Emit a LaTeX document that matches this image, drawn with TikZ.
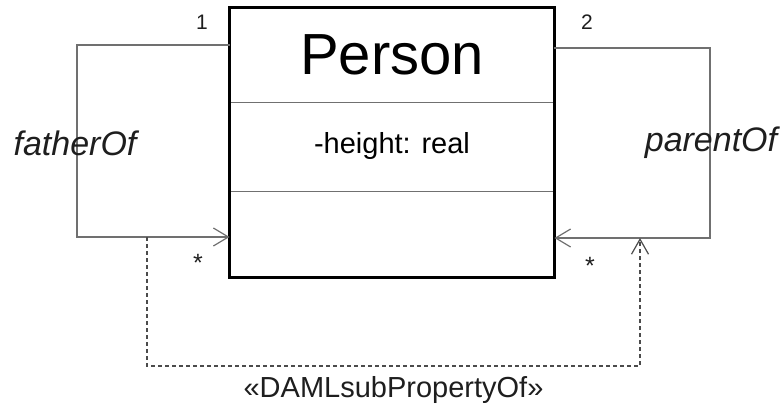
\documentclass[tikz,border=0pt]{standalone}
\usepackage{fontspec}
\setmainfont{Liberation Sans}
\usetikzlibrary{arrows.meta, positioning, calc}

\definecolor{linegray}{RGB}{112,112,112}
\definecolor{textgray}{RGB}{30,30,30}

\tikzset{
    compart/.style={draw=linegray, line width=0.9pt, minimum width=324pt, inner sep=0pt, text=black},
    classborder/.style={draw=black, line width=2.6pt},
    assoc/.style={draw=linegray, line width=1.4pt, -{Straight Barb[length=15pt, width=18pt, line width=1.2pt]}},
    dep/.style={draw=textgray!80, line width=1.3pt, dash pattern=on 4pt off 3pt, -{Straight Barb[length=15pt, width=17pt, line width=1.2pt]}},
    mult/.style={text=textgray, font=\fontsize{21}{23}\selectfont, inner sep=0pt},
    star/.style={text=textgray, font=\fontsize{25}{27}\selectfont, inner sep=0pt},
    rolename/.style={text=textgray, font=\fontsize{34}{36}\selectfont\itshape, inner sep=0pt}
}

\begin{document}
\begin{tikzpicture}[x=1pt, y=-1pt]
    \useasboundingbox (0,0) rectangle (782,409);

    % Class Person
    \node[compart, minimum height=94pt, font=\fontsize{58}{60}\selectfont] (name) at (392,55) {Person};
    \node[compart, minimum height=89pt, font=\fontsize{29}{31}\selectfont] (attr) at (392,146.5) {-height: real};
    \node[compart, minimum height=86pt] (ops) at (392,234) {};
    \draw[classborder] (name.north west) rectangle (ops.south east);

    % fatherOf
    \coordinate (fA) at ([yshift=10pt]name.west);
    \coordinate (fB) at (77,237);
    \coordinate (fEnd) at ([yshift=-3pt]ops.west);
    \draw[assoc] (fA) -| (fB) |- (fEnd);
    \node[mult] (m1) at (202,22) {1};
    \node[star] (s1) at (198,263) {*};
    \node[rolename] (father) at (75,143) {fatherOf};

    % parentOf
    \coordinate (pA) at ([yshift=7pt]name.east);
    \coordinate (pB) at (710,238);
    \coordinate (pEnd) at ([yshift=-4pt]ops.east);
    \draw[assoc] (pA) -| (pB) |- (pEnd);
    \node[mult] (m2) at (587,22) {2};
    \node[star] (s2) at (590,266) {*};
    \node[rolename] (parent) at (711,143) {parentOf};

    % sub property
    \coordinate (subS) at (147,237);
    \coordinate (subL) at (147,366);
    \coordinate (subT) at (640,238);
    \draw[dep] (subS) -- (subL) -| (subT)
        node[pos=0.25, below=10pt, text=textgray, font=\fontsize{29}{31}\selectfont, inner sep=0pt] (stereo) {«DAMLsubPropertyOf»};
\end{tikzpicture}
\end{document}
